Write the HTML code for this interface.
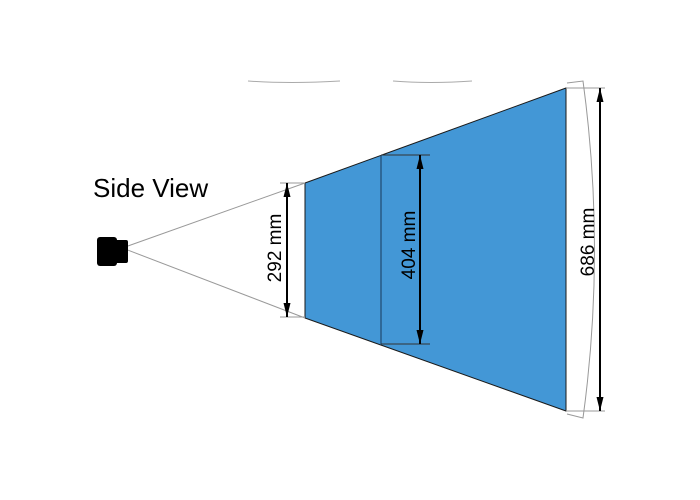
<!DOCTYPE html>
<html><head><meta charset="utf-8"><style>
html,body{margin:0;padding:0;background:#fff;width:700px;height:500px;overflow:hidden}
text{font-family:"Liberation Sans",sans-serif}
</style></head><body>
<svg width="700" height="500" viewBox="0 0 700 500" xmlns="http://www.w3.org/2000/svg">
<defs>
<marker id="a" viewBox="0 0 10 10" refX="10" refY="5" markerWidth="14" markerHeight="7" orient="auto-start-reverse" markerUnits="userSpaceOnUse" preserveAspectRatio="none"><path d="M0,0 L10,5 L0,10 z" fill="#000"/></marker>
</defs>
<path d="M248,81 Q290,84 340,81" stroke="#aaa" fill="none" stroke-width="1"/>
<path d="M393,81 Q430,84 472,81" stroke="#aaa" fill="none" stroke-width="1"/>
<polygon points="305,183 566,88 566,411 305,318" fill="#4397d6" stroke="#1a1a1a" stroke-width="1"/>
<line x1="381" y1="155" x2="381" y2="344" stroke="#1a3a5a" stroke-width="1"/>
<line x1="381" y1="155" x2="430" y2="155" stroke="#333" stroke-width="1"/>
<line x1="381" y1="344" x2="430" y2="344" stroke="#333" stroke-width="1"/>
<line x1="125" y1="247" x2="305" y2="183" stroke="#999" stroke-width="1"/>
<line x1="125" y1="249" x2="305" y2="318" stroke="#999" stroke-width="1"/>
<line x1="280" y1="183" x2="305" y2="183" stroke="#999" stroke-width="1"/>
<line x1="280" y1="317" x2="305" y2="317" stroke="#999" stroke-width="1"/>
<line x1="566" y1="88" x2="605" y2="88" stroke="#999" stroke-width="1"/>
<line x1="566" y1="411" x2="605" y2="411" stroke="#999" stroke-width="1"/>
<path d="M567,83 L583,81 Q606,250 583,418 L567,414" stroke="#999" fill="none" stroke-width="1"/>
<line x1="287" y1="183" x2="287" y2="317" stroke="#000" stroke-width="2" marker-start="url(#a)" marker-end="url(#a)"/>
<line x1="420" y1="155" x2="420" y2="344" stroke="#000" stroke-width="2" marker-start="url(#a)" marker-end="url(#a)"/>
<line x1="600" y1="88" x2="600" y2="411" stroke="#000" stroke-width="2" marker-start="url(#a)" marker-end="url(#a)"/>
<rect x="97" y="237" width="20" height="29" rx="3" fill="#000"/>
<rect x="112" y="240" width="16" height="23" rx="2" fill="#000"/>
<text x="93" y="197" font-size="26" fill="#000">Side View</text>
<text transform="translate(281,248) rotate(-90)" font-size="19" text-anchor="middle" fill="#000">292 mm</text>
<text transform="translate(415,245) rotate(-90)" font-size="19" text-anchor="middle" fill="#000">404 mm</text>
<text transform="translate(594,242) rotate(-90)" font-size="19" text-anchor="middle" fill="#000">686 mm</text>
</svg>
</body></html>
